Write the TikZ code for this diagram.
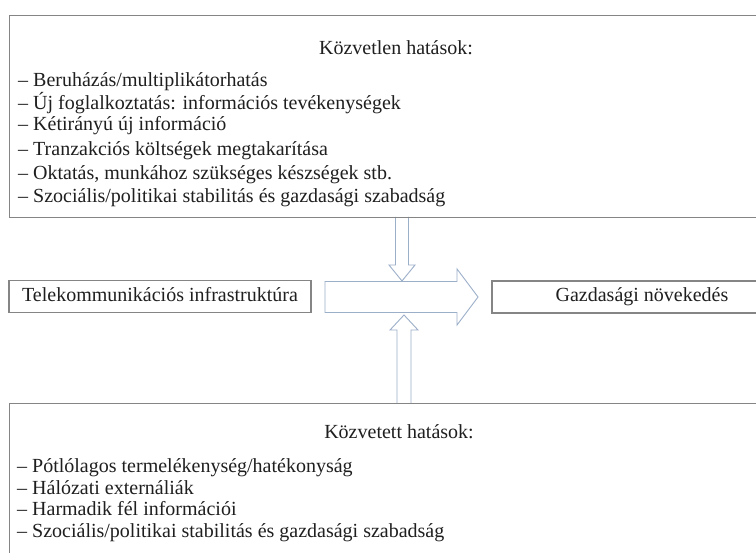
\documentclass[tikz,border=0pt]{standalone}
\usepackage{fontspec}
\setmainfont{Liberation Serif}
\definecolor{boxgray}{HTML}{858585}
\definecolor{arrowblue}{HTML}{9CAFC9}
\definecolor{textgray}{HTML}{1F1F1F}
\begin{document}
\begin{tikzpicture}[x=1pt,y=-1pt,
  box/.style={draw=boxgray, line width=1.3pt, inner sep=0pt},
  txt/.style={inner sep=0pt, text=textgray, font=\fontsize{20}{24}\selectfont},
  item/.style={txt, anchor=base west},
  head/.style={txt, anchor=base},
  midbox/.style={box, txt, text height=14pt, text depth=4pt, minimum height=32pt},
  barrow/.style={draw=arrowblue, fill=white, line width=0.9pt, line join=miter}]
\useasboundingbox (0,0) rectangle (756,553);
\clip (0,0) rectangle (756,553);
\fill[white] (0,0) rectangle (756,553);

% block arrows
\coordinate (dtop) at (402,217);
\coordinate (ubot) at (404,403);
\draw[barrow] (325,281.5) -- (457,281.5) -- (457,269) -- (478,297) -- (457,325) -- (457,312.5) -- (325,312.5) -- cycle;
\draw[barrow] (395.5,217) -- (395.5,265) -- (389,265) -- (402,281) -- (415,265) -- (408.5,265) -- (408.5,217);
\draw[barrow] (397,403) -- (397,330) -- (390,330) -- (404,315) -- (418,330) -- (411,330) -- (411,403);

% top box
\node[box, anchor=north west, minimum width=800pt, minimum height=202pt] (topbox) at (9,15) {};
\node[head] (th) at (396,55) {Közvetlen hatások:};
\node[item] (t1) at (18,87) {– Beruházás/multiplikátorhatás};
\node[item] (t2) at (18,110) {– Új foglalkoztatás: információs tevékenységek};
\node[item] (t3) at (18,131) {– Kétirányú új információ};
\node[item] (t4) at (18,156) {– Tranzakciós költségek megtakarítása};
\node[item] (t5) at (18,180) {– Oktatás, munkához szükséges készségek stb.};
\node[item] (t6) at (18,203) {– Szociális/politikai stabilitás és gazdasági szabadság};

% middle boxes
\node[midbox, minimum width=302pt] (tele) at (160,296.5) {Telekommunikációs infrastruktúra};
\node[midbox, minimum width=300pt] (growth) at (642,297) {Gazdasági növekedés};

% bottom box
\node[box, anchor=north west, minimum width=800pt, minimum height=200pt] (botbox) at (9,403) {};
\node[head] (bh) at (399,439) {Közvetett hatások:};
\node[item] (b1) at (17,473) {– Pótlólagos termelékenység/hatékonyság};
\node[item] (b2) at (17,495) {– Hálózati externáliák};
\node[item] (b3) at (17,516) {– Harmadik fél információi};
\node[item] (b4) at (17,537) {– Szociális/politikai stabilitás és gazdasági szabadság};
\end{tikzpicture}
\end{document}
